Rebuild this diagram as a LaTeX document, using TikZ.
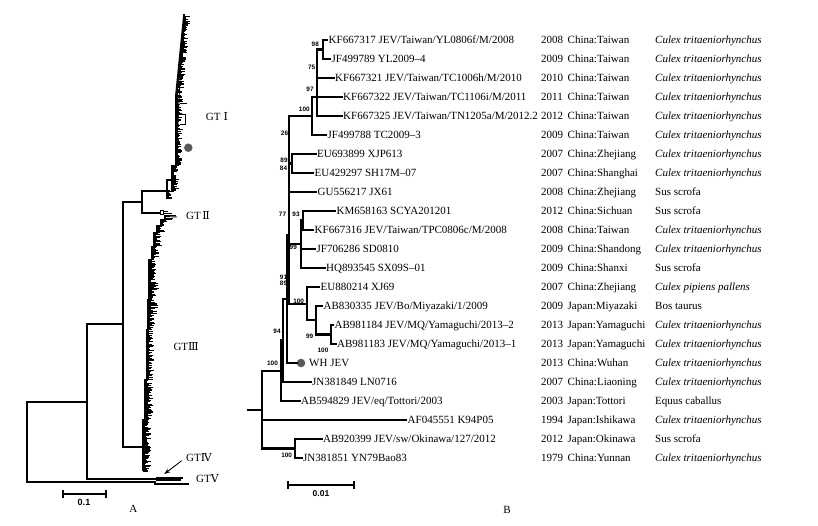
\documentclass[tikz,border=0pt]{standalone}
\usepackage{fontspec}
\setmainfont{Liberation Serif}
\setsansfont{Liberation Sans}
\newfontfamily\numfont{DejaVu Serif}
\usetikzlibrary{arrows.meta}
\newcommand\culexct{\textit{Culex tritaeniorhynchus}}
\begin{document}
\begin{tikzpicture}[x=1pt,y=-1pt,
  br/.style={line width=2.1pt,line cap=rect,line join=miter},
  abr/.style={line width=1.7pt,line cap=rect,line join=miter},
  tick/.style={line width=0.6pt},
  tip/.style={anchor=west,inner xsep=1.5pt,inner ysep=0pt,text height=7pt,text depth=0pt,font=\fontsize{11}{12}\selectfont},
  info/.style={anchor=west,inner sep=0pt,text height=7pt,text depth=0pt,font=\fontsize{11}{12}\selectfont},
  bs/.style={inner sep=0pt,font=\sffamily\bfseries\fontsize{6.4}{7}\selectfont},
  gt/.style={anchor=west,inner sep=0pt,font=\fontsize{11}{12}\selectfont},
  dotc/.style={circle,fill=black!65,inner sep=0pt,minimum size=8.5pt},
  panel/.style={inner sep=0pt,font=\fontsize{11}{12}\selectfont},
  sbl/.style={inner sep=0pt,font=\sffamily\bfseries\fontsize{8.5}{9}\selectfont}
]
\fill[white] (0,0) rectangle (818,526);
\useasboundingbox (0,0) rectangle (818,526);
\pgfmathsetseed{7}

% ================= Panel A =================
\coordinate (rootA) at (26.7,442);
\coordinate (nA1) at (87.3,401.7);
\coordinate (gt5) at (155,482.3);
\coordinate (nA2) at (122.7,324.3);
\coordinate (gt4) at (157,479);
\coordinate (nA3) at (141.7,201.7);
\coordinate (gt3) at (143.3,446.7);
\coordinate (gt1) at (166.7,191);
\coordinate (gt2) at (160,212.7);
\draw[abr] (rootA) |- (nA1);
\draw[abr] (rootA) |- (gt5);
\draw[abr] (nA1) |- (nA2);
\draw[abr] (nA1) |- (gt4);
\draw[abr] (nA2) |- (nA3);
\draw[abr] (nA2) |- (gt3);
\draw[abr] (nA3) |- (gt1);
\draw[abr] (nA3) |- (gt2);
% GT IV and GT V
\draw[abr] (157,477.8) -- (157,480.5);
\draw[abr] (157,478) -- (181.7,478);
\draw[abr] (157,480.3) -- (180,480.3);
\draw[abr] (gt5) -- (155,484.3) -- (188.3,484.3);
% GT I spine
\draw[abr] (166.7,180) -- (166.7,198) -- (171,198);
\draw[abr] (166.7,180) -- (172.3,180);
\draw[abr] (172.3,166) -- (172.3,190) -- (175,190);
\draw[abr] (172.3,166) -- (176,166) -- (176,95) -- (184,15);
\draw[line width=0.9pt] (177,140) -- (182,40);
\foreach \y in {16,17,...,197} {
  \pgfmathsetmacro\xo{\y<95 ? 176+(95-\y)*0.1 : (\y<166 ? 176 : (\y<190 ? 172.3 : 166.7))}
  \pgfmathsetmacro\ln{1.5+5.5*rnd}
  \draw[tick] (\xo,\y) -- ++(\ln,0);
}
\draw[line width=1pt] (180,104) -- (186.5,104);
\draw[line width=1pt] (180,115) -- (185.5,115) -- (185.5,125) -- (180,125);
\node[dotc] (dotA) at (188.3,147.7) {};
% GT II
\draw[line width=1pt] (160,210.5) rectangle (163.5,215);
\draw[line width=0.9pt] (163.5,211) -- (168,211);
\draw[line width=0.9pt] (163.5,213) -- (172,213);
\draw[line width=0.9pt] (163.5,215) -- (176,215);
\draw[line width=0.9pt] (165,216.5) -- (177,217);
\draw[line width=0.9pt] (166,218.5) -- (173,218.5);
% GT III spine (staircase)
\draw[abr] (143.3,470) -- (143.3,420) -- (145,420) -- (145,380) -- (146.5,380) -- (146.5,330)
  -- (147.5,330) -- (147.5,300) -- (148.5,300) -- (148.5,260) -- (151.5,260) -- (151.5,247)
  -- (154,247) -- (154,233) -- (157,233) -- (157,226) -- (160.5,226) -- (160.5,220) -- (165,220) -- (165,217);
\foreach \y in {218,219,...,471} {
  \pgfmathsetmacro\xo{\y<220 ? 165 : (\y<226 ? 160.5 : (\y<233 ? 157 : (\y<247 ? 154 : (\y<260 ? 151.5 : (\y<300 ? 148.5 : (\y<330 ? 147.5 : (\y<380 ? 146.5 : (\y<420 ? 145 : 143.3))))))))}
  \pgfmathsetmacro\ln{\y>282 ? (\y<318 ? 2+9*rnd : 2+6*rnd) : 2+6*rnd}
  \draw[tick] (\xo,\y) -- ++(\ln,0);
}
% labels A
\node[gt] (lgt1) at (205.7,116.7) {GT\hspace{3pt}{\numfont Ⅰ}};
\node[gt] (lgt2) at (186,216) {GT\hspace{1.5pt}{\numfont Ⅱ}};
\node[gt] (lgt3) at (173.3,346.7) {GT{\numfont Ⅲ}};
\node[gt] (lgt4) at (186,457.3) {GT{\numfont Ⅳ}};
\node[gt] (lgt5) at (196,479) {GT{\numfont Ⅴ}};
\coordinate (arrS) at (181.7,460.7);
\coordinate (arrE) at (164.3,474);
\draw[line width=0.9pt,-{Stealth[length=6pt,width=4.5pt]}] (arrS) -- (arrE);
% scale A
\coordinate (sa1) at (62.7,494);
\coordinate (sa2) at (106,494);
\draw[abr] (sa1) -- (sa2);
\draw[abr] ([yshift=-3pt]sa1) -- ([yshift=3pt]sa1);
\draw[abr] ([yshift=-3pt]sa2) -- ([yshift=3pt]sa2);
\node[sbl,font=\sffamily\bfseries\fontsize{9}{10}\selectfont] (sal) at (84,502.5) {0.1};
\node[panel] (pA) at (133.3,509.3) {A};

% ================= Panel B =================
\coordinate (n98) at (322.7,49.5);
\coordinate (n75) at (317.3,63.75);
\coordinate (n97) at (317.3,97);
\coordinate (n100a) at (312.3,116);
\coordinate (n26) at (289.3,139.75);
\coordinate (n89) at (292.3,163.5);
\coordinate (n84) at (289.3,166);
\coordinate (n93) at (303.3,220.5);
\coordinate (n99) at (300.7,244.25);
\coordinate (n100c) at (330.7,334.5);
\coordinate (n99b) at (315.7,320.25);
\coordinate (n100b) at (306.7,303.6);
\coordinate (n77) at (289.3,234.8);
\coordinate (n91) at (286.7,298.9);
\coordinate (n94) at (283.3,340.5);
\coordinate (n100e) at (281,370.7);
\coordinate (n100d) at (295,448.5);
\coordinate (rootB) at (262.3,409.6);
\coordinate (stubB) at (248.3,409.6);

\node[tip] (t1) at (327,40) {KF667317 JEV/Taiwan/YL0806f/M/2008};
\node[tip] (t2) at (330,59) {JF499789 YL2009–4};
\node[tip] (t3) at (333.5,78) {KF667321 JEV/Taiwan/TC1006h/M/2010};
\node[tip] (t4) at (341.5,97) {KF667322 JEV/Taiwan/TC1106i/M/2011};
\node[tip] (t5) at (341.5,116) {KF667325 JEV/Taiwan/TN1205a/M/2012.2};
\node[tip] (t6) at (326,135) {JF499788 TC2009–3};
\node[tip] (t7) at (315.5,154) {EU693899 XJP613};
\node[tip] (t8) at (313,173) {EU429297 SH17M–07};
\node[tip] (t9) at (316,192) {GU556217 JX61};
\node[tip] (t10) at (335,211) {KM658163 SCYA201201};
\node[tip] (t11) at (313,230) {KF667316 JEV/Taiwan/TPC0806c/M/2008};
\node[tip] (t12) at (315,249) {JF706286 SD0810};
\node[tip] (t13) at (324.5,268) {HQ893545 SX09S–01};
\node[tip] (t14) at (319,287) {EU880214 XJ69};
\node[tip] (t15) at (322,306) {AB830335 JEV/Bo/Miyazaki/1/2009};
\node[tip] (t16) at (333,325) {AB981184 JEV/MQ/Yamaguchi/2013–2};
\node[tip] (t17) at (335.5,344) {AB981183 JEV/MQ/Yamaguchi/2013–1};
\coordinate (t18) at (297,363);
\node[dotc] (dotB) at (301,363) {};
\node[tip] (t18l) at (307.5,363) {WH JEV};
\node[tip] (t19) at (310.5,382) {JN381849 LN0716};
\node[tip] (t20) at (299.5,401) {AB594829 JEV/eq/Tottori/2003};
\node[tip] (t21) at (406,420) {AF045551 K94P05};
\node[tip] (t22) at (321.5,439) {AB920399 JEV/sw/Okinawa/127/2012};
\node[tip] (t23) at (301.5,458) {JN381851 YN79Bao83};

\draw[br] (n98) |- (t1.west);
\draw[br] (n98) |- (t2.west);
\draw[br] (n75) |- (n98);
\draw[br] (n75) |- (t3.west);
\draw[br] (n97) |- (n75);
\draw[br] (n97) |- (t4.west);
\draw[br] (n97) |- (t5.west);
\draw[br] (n100a) |- (n97);
\draw[br] (n100a) |- (t6.west);
\draw[br] (n26) |- (n100a);
\draw[br] (n26) |- (n89);
\draw[br] (n89) |- (t7.west);
\draw[br] (n89) |- (t8.west);
\draw[br] (n84) |- (n26);
\draw[br] (n84) |- (t9.west);
\draw[br] (n93) |- (t10.west);
\draw[br] (n93) |- (t11.west);
\draw[br] (n99) |- (n93);
\draw[br] (n99) |- (t12.west);
\draw[br] (n99) |- (t13.west);
\draw[br] (n100c) |- (t16.west);
\draw[br] (n100c) |- (t17.west);
\draw[br] (n99b) |- (t15.west);
\draw[br] (n99b) |- (n100c);
\draw[br] (n100b) |- (t14.west);
\draw[br] (n100b) |- (n99b);
\draw[br] (n77) |- (n84);
\draw[br] (n77) |- (n99);
\draw[br] (n77) |- (n100b);
\draw[br] (n91) |- (n77);
\draw[br] (n91) |- (t18);
\draw[br] (n94) |- (n91);
\draw[br] (n94) |- (t19.west);
\draw[br] (n100e) |- (n94);
\draw[br] (n100e) |- (t20.west);
\draw[br] (n100d) |- (t22.west);
\draw[br] (n100d) |- (t23.west);
\draw[br] (rootB) |- (n100e);
\draw[br] (rootB) |- (t21.west);
\draw[br] (rootB) |- (n100d);
\draw[br] (stubB) -- (rootB);

% bootstrap values
\node[bs] (b1) at (315.3,44.3) {98};
\node[bs] (b2) at (311.7,67.7) {75};
\node[bs] (b3) at (310,89.3) {97};
\node[bs] (b4) at (304.3,109.3) {100};
\node[bs] (b5) at (284.5,133.3) {26};
\node[bs] (b6) at (284,160.5) {89};
\node[bs] (b7) at (283.5,168.5) {84};
\node[bs] (b8) at (282.5,214) {77};
\node[bs] (b9) at (296,214) {93};
\node[bs] (b10) at (293.3,247.3) {99};
\node[bs] (b11) at (283.5,276.8) {91};
\node[bs] (b12) at (283.5,283.5) {89};
\node[bs] (b13) at (298.7,301.7) {100};
\node[bs] (b14) at (309.7,336) {99};
\node[bs] (b15) at (323,350) {100};
\node[bs] (b16) at (277,331) {94};
\node[bs] (b17) at (272.5,363.3) {100};
\node[bs] (b18) at (286.7,455) {100};

% info columns
\foreach \i/\y/\yr/\ct/\hs in {
 1/40/2008/China:Taiwan/\culexct,
 2/59/2009/China:Taiwan/\culexct,
 3/78/2010/China:Taiwan/\culexct,
 4/97/2011/China:Taiwan/\culexct,
 5/116/2012/China:Taiwan/\culexct,
 6/135/2009/China:Taiwan/\culexct,
 7/154/2007/China:Zhejiang/\culexct,
 8/173/2007/China:Shanghai/\culexct,
 9/192/2008/China:Zhejiang/{Sus scrofa},
 10/211/2012/China:Sichuan/{Sus scrofa},
 11/230/2008/China:Taiwan/\culexct,
 12/249/2009/China:Shandong/\culexct,
 13/268/2009/China:Shanxi/{Sus scrofa},
 14/287/2007/China:Zhejiang/{\textit{Culex pipiens pallens}},
 15/306/2009/Japan:Miyazaki/{Bos taurus},
 16/325/2013/Japan:Yamaguchi/\culexct,
 17/344/2013/Japan:Yamaguchi/\culexct,
 18/363/2013/China:Wuhan/\culexct,
 19/382/2007/China:Liaoning/\culexct,
 20/401/2003/Japan:Tottori/{Equus caballus},
 21/420/1994/Japan:Ishikawa/\culexct,
 22/439/2012/Japan:Okinawa/{Sus scrofa},
 23/458/1979/China:Yunnan/\culexct} {
  \node[info] (yr\i) at (541,\y) {\yr};
  \node[info] (ct\i) at (567.5,\y) {\ct};
  \node[info] (hs\i) at (655,\y) {\hs};
}

% scale B
\coordinate (sb1) at (288,485);
\coordinate (sb2) at (354,485);
\draw[br,line width=1.7pt] (sb1) -- (sb2);
\draw[br,line width=1.7pt] ([yshift=-3pt]sb1) -- ([yshift=3pt]sb1);
\draw[br,line width=1.7pt] ([yshift=-3pt]sb2) -- ([yshift=3pt]sb2);
\node[sbl] (sbl) at (321,493.5) {0.01};
\node[panel] (pB) at (507,510) {B};
\end{tikzpicture}
\end{document}
